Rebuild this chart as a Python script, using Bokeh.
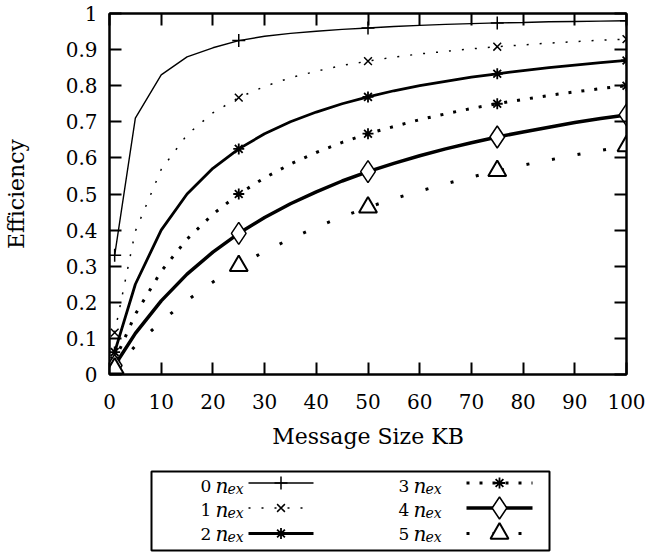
from bokeh.plotting import figure
from bokeh.models import Range1d, FixedTicker, LinearAxis, CustomJSTickFormatter
from bokeh.layouts import column
from bokeh.embed import file_html
from bokeh.resources import INLINE
from bokeh.core.properties import value

# ---------------- data ----------------
msg_kb = [1, 5, 10, 15, 20, 25, 30, 35, 40, 45, 50, 55, 60, 65, 70, 75, 80, 85, 90, 95, 100]
eff_0 = [0.33, 0.71, 0.83, 0.88, 0.905, 0.925, 0.937, 0.945, 0.951, 0.956, 0.96, 0.964, 0.967, 0.97, 0.972, 0.974, 0.975, 0.977, 0.978, 0.979, 0.98]
eff_1 = [0.116, 0.397, 0.568, 0.664, 0.725, 0.767, 0.798, 0.822, 0.84, 0.856, 0.868, 0.879, 0.888, 0.895, 0.902, 0.908, 0.913, 0.918, 0.922, 0.926, 0.929]
eff_2 = [0.062, 0.25, 0.4, 0.5, 0.571, 0.625, 0.667, 0.7, 0.727, 0.75, 0.769, 0.786, 0.8, 0.812, 0.824, 0.833, 0.842, 0.85, 0.857, 0.864, 0.87]
eff_3 = [0.038, 0.167, 0.286, 0.375, 0.444, 0.5, 0.545, 0.583, 0.615, 0.643, 0.667, 0.687, 0.706, 0.722, 0.737, 0.75, 0.762, 0.773, 0.783, 0.792, 0.8]
eff_4 = [0.025, 0.114, 0.204, 0.278, 0.339, 0.391, 0.435, 0.473, 0.506, 0.536, 0.562, 0.585, 0.606, 0.625, 0.642, 0.658, 0.672, 0.685, 0.698, 0.709, 0.719]
eff_5 = [0.017, 0.079, 0.147, 0.205, 0.256, 0.301, 0.341, 0.376, 0.408, 0.437, 0.463, 0.487, 0.508, 0.528, 0.547, 0.564, 0.58, 0.594, 0.608, 0.621, 0.633]
marker_kb = [1, 25, 50, 75, 100]
series_names = ["0", "1", "2", "3", "4", "5"]
x_ticks = [0, 10, 20, 30, 40, 50, 60, 70, 80, 90, 100]
y_ticks = [0.0, 0.1, 0.2, 0.3, 0.4, 0.5, 0.6, 0.7, 0.8, 0.9, 1.0]
y_tick_labels = ["0", "0.1", "0.2", "0.3", "0.4", "0.5", "0.6", "0.7", "0.8", "0.9", "1"]
x_title = "Message Size KB"
y_title = "Efficiency"

FONT = "DejaVu Serif"
series = [eff_0, eff_1, eff_2, eff_3, eff_4, eff_5]

styles = [
    dict(lw=1.4, dash="solid", marker="cross", msize=13, mlw=1.5, fill=None),
    dict(lw=1.5, dash="2 11", marker="x", msize=11, mlw=1.5, fill=None),
    dict(lw=2.8, dash="solid", marker="asterisk", msize=11, mlw=1.8, fill=None),
    dict(lw=3.0, dash="3 10", marker="asterisk", msize=11, mlw=1.8, fill=None),
    dict(lw=3.5, dash="solid", marker="diamond", msize=22, mlw=1.5, fill="white"),
    dict(lw=3.0, dash="3 23", marker="triangle", msize=18, mlw=2.0, fill="white"),
]

W = 647
FL, FR = 109, 626   # frame left / right on the page

# ---------------- main plot ----------------
p = figure(width=W, height=452, x_range=Range1d(0, 100), y_range=Range1d(0, 1),
           output_backend="svg", toolbar_location=None,
           min_border_left=FL, min_border_right=W - FR, min_border_top=13, min_border_bottom=78)
p.grid.visible = False
p.outline_line_color = "black"
p.outline_line_width = 2

p.xaxis.ticker = FixedTicker(ticks=x_ticks)
p.yaxis.ticker = FixedTicker(ticks=y_ticks)
p.yaxis.major_label_overrides = {t: l for t, l in zip(y_ticks, y_tick_labels)}
p.xaxis.axis_label = x_title
p.yaxis.axis_label = y_title

for ax in (p.xaxis, p.yaxis):
    ax.axis_line_width = 2
    ax.major_tick_in = 12
    ax.major_tick_out = 0
    ax.major_tick_line_width = 2
    ax.minor_tick_line_color = None
    ax.major_label_text_font = FONT
    ax.major_label_text_font_size = "20px"
    ax.major_label_text_color = "black"
    ax.axis_label_text_font = FONT
    ax.axis_label_text_font_size = "22px"
    ax.axis_label_text_font_style = "normal"
    ax.axis_label_text_color = "black"
p.xaxis.major_label_standoff = 19
p.xaxis.axis_label_standoff = 12
p.yaxis.major_label_standoff = 12
p.yaxis.axis_label_standoff = 34

blank = CustomJSTickFormatter(code="return ''")
top_axis = LinearAxis(ticker=FixedTicker(ticks=x_ticks), formatter=blank,
                      major_label_standoff=0, axis_line_width=2, major_tick_in=12, major_tick_out=0,
                      major_tick_line_width=2, minor_tick_line_color=None)
right_axis = LinearAxis(ticker=FixedTicker(ticks=y_ticks), formatter=blank,
                        major_label_standoff=0, axis_line_width=2, major_tick_in=12, major_tick_out=0,
                        major_tick_line_width=2, minor_tick_line_color=None)
p.add_layout(top_axis, "above")
p.add_layout(right_axis, "right")

idx = [msg_kb.index(v) for v in marker_kb]
for ys, st in zip(series, styles):
    p.line(msg_kb, ys, line_color="black", line_width=st["lw"], line_dash=st["dash"])
for ys, st in zip(series, styles):
    p.scatter(marker_kb, [ys[i] for i in idx], marker=st["marker"], size=st["msize"],
              line_color="black", line_width=st["mlw"], fill_color=st["fill"])

# ---------------- key strip (page pixel coordinates, same frame columns as the plot) ----------------
leg = figure(width=W, height=100, x_range=Range1d(FL, FR), y_range=Range1d(100, 0),
             output_backend="svg", toolbar_location=None,
             min_border_left=FL, min_border_right=W - FR, min_border_top=0, min_border_bottom=0,
             x_axis_location=None, y_axis_location=None)
leg.grid.visible = False
leg.outline_line_color = None

leg.quad(left=[151], right=[549], top=[19], bottom=[98], fill_color=None,
         line_color="black", line_width=2)

row_text_y = [33, 57, 81]
row_line_y = [30.5, 55.5, 81]
col_digit_x = [200, 398]
col_line_x = [(248, 313), (466, 532)]
for k, (name, st) in enumerate(zip(series_names, styles)):
    c, r = divmod(k, 3)
    xd = col_digit_x[c]
    yt = row_text_y[r]
    leg.text([xd], [yt], text=[name], text_font=value(FONT), text_font_size="17px",
             text_baseline="alphabetic", text_align="left", text_color="black")
    leg.text([xd + 15], [yt], text=["n"], text_font=value(FONT), text_font_size="20px",
             text_font_style="italic", text_baseline="alphabetic", text_align="left", text_color="black")
    leg.text([xd + 27], [yt + 3], text=["ex"], text_font=value(FONT), text_font_size="14px",
             text_font_style="italic", text_baseline="alphabetic", text_align="left", text_color="black")
    x0, x1 = col_line_x[c]
    yl = row_line_y[r]
    leg.line([x0, x1], [yl, yl], line_color="black", line_width=st["lw"], line_dash=st["dash"])
    leg.scatter([(x0 + x1) / 2], [yl], marker=st["marker"], size=st["msize"],
                line_color="black", line_width=st["mlw"], fill_color=st["fill"])

layout = column(p, leg)
open("out.html", "w").write(file_html(layout, INLINE))
